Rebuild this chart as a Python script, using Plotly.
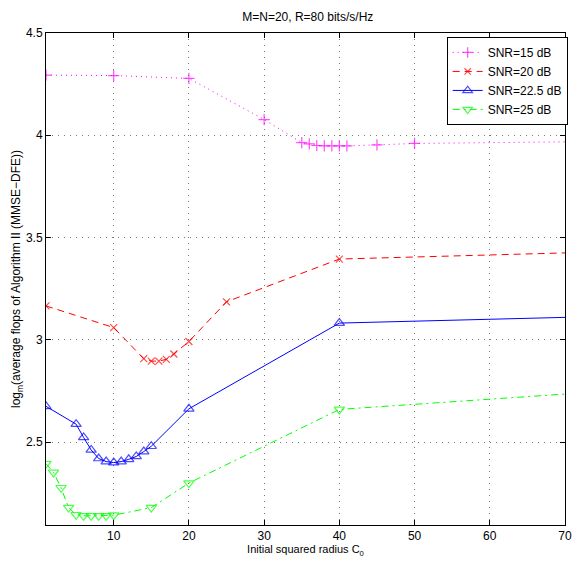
import plotly.graph_objects as go

# Data
x15 = [1, 10, 20, 30, 35, 36, 37, 38, 39, 40, 41, 45, 50, 70]
y15 = [4.294, 4.292, 4.278, 4.077, 3.964, 3.958, 3.950, 3.948, 3.948, 3.948, 3.948, 3.953, 3.960, 3.968]

x20 = [1, 10, 14, 15, 16, 17, 18, 20, 25, 40, 70]
y20 = [3.166, 3.060, 2.908, 2.896, 2.896, 2.905, 2.931, 2.992, 3.186, 3.395, 3.425]

x225 = [1, 5, 6, 7, 8, 9, 10, 11, 12, 13, 14, 15, 20, 40, 70]
y225 = [2.675, 2.588, 2.523, 2.462, 2.420, 2.405, 2.400, 2.405, 2.416, 2.430, 2.454, 2.480, 2.663, 3.082, 3.110]

x25 = [1, 2, 3, 4, 5, 6, 7, 8, 9, 10, 15, 20, 40, 70]
y25 = [2.395, 2.352, 2.277, 2.180, 2.145, 2.140, 2.140, 2.140, 2.140, 2.143, 2.180, 2.300, 2.660, 2.735]

names = ["SNR=15 dB", "SNR=20 dB", "SNR=22.5 dB", "SNR=25 dB"]
xticks = [10, 20, 30, 40, 50, 60, 70]
yticks = [2.5, 3, 3.5, 4, 4.5]

series = [
    (x15, y15, names[0], "#ff00ff", "1px,4px", "cross-thin-open", 8),
    (x20, y20, names[1], "#ff0000", "7px,5px", "x-thin-open", 7),
    (x225, y225, names[2], "#0000ff", "solid", "triangle-up-open", 9),
    (x25, y25, names[3], "#00ff00", "7px,4px,2px,4px", "triangle-down-open", 9),
]

fig = go.Figure()
for xs, ys, nm, col, dash, sym, sz in series:
    sizes = [sz] * (len(xs) - 1) + [0]
    fig.add_trace(go.Scatter(
        x=xs, y=ys, name=nm, mode="lines+markers",
        line=dict(color=col, dash=dash, width=1),
        marker=dict(symbol=sym, size=sizes, color=col, line=dict(color=col, width=1.2)),
    ))

font = dict(family="Liberation Sans, Arial, Helvetica, sans-serif", size=12, color="black")

fig.update_layout(
    width=584, height=564,
    margin=dict(l=46, r=16, t=33, b=35),
    paper_bgcolor="white", plot_bgcolor="white",
    font=font,
    title=dict(text="M=N=20, R=80 bits/s/Hz", x=0.527, xanchor="center", y=0.97, yanchor="middle",
               font=dict(size=12)),
    legend=dict(x=0.772, y=0.992, xanchor="left", yanchor="top",
                bordercolor="black", borderwidth=1, bgcolor="white",
                font=dict(size=12), tracegroupgap=0, itemwidth=30),
    showlegend=True,
)
fig.update_xaxes(
    range=[1, 70], tickvals=xticks, ticks="inside", ticklen=5, tickcolor="black",
    showline=True, linecolor="black", linewidth=1, mirror="ticks",
    showgrid=True, gridcolor="#777777", griddash="1px,5px", gridwidth=1, zeroline=False,
    tickfont=dict(size=12),
    title=dict(text="Initial squared radius C<sub>0</sub>", standoff=1, font=dict(size=11)),
)
fig.update_yaxes(
    range=[2.095, 4.5], tickvals=yticks, ticks="inside", ticklen=5, tickcolor="black",
    showline=True, linecolor="black", linewidth=1, mirror="ticks",
    showgrid=True, gridcolor="#777777", griddash="1px,5px", gridwidth=1, zeroline=False,
    tickfont=dict(size=12),
    title=dict(text="log<sub>m</sub>(average flops of Algorithm II (MMSE\u2212DFE))", standoff=2, font=dict(size=12)),
)

fig.write_html("out.html")
